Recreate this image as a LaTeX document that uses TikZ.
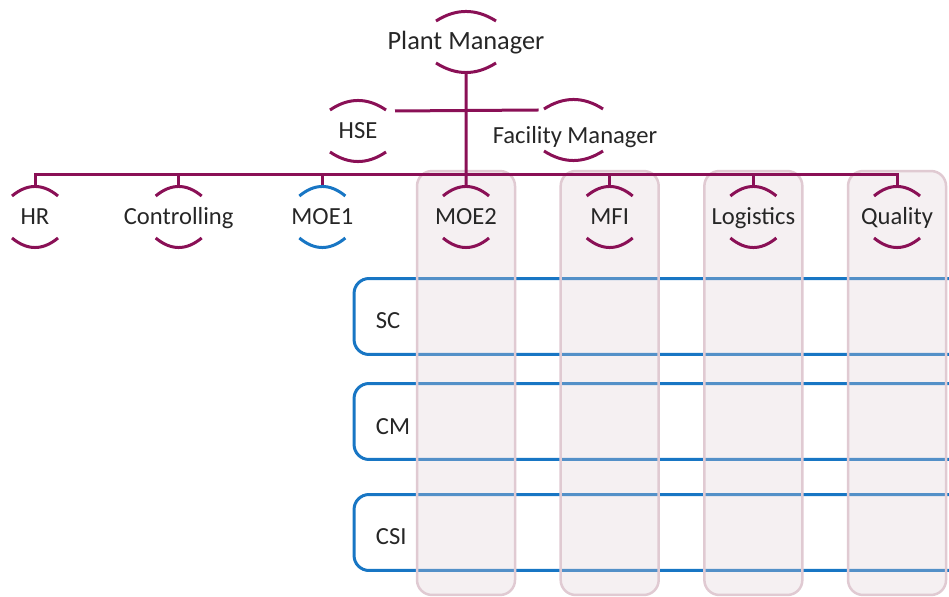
\documentclass[tikz,border=0pt]{standalone}
\usepackage{fontspec}
\setmainfont{Carlito}
\usetikzlibrary{positioning,calc,backgrounds}

\definecolor{plum}{RGB}{138,16,86}
\definecolor{rowblue}{RGB}{24,118,196}
\definecolor{colpink}{RGB}{222,205,212}
\definecolor{colline}{RGB}{224,202,210}
\definecolor{txt}{RGB}{38,38,38}

\tikzset{
  unit/.style={inner sep=0pt, text height=10pt, text depth=1pt, text=txt, font=\fontsize{14}{16}\selectfont},
  orgline/.style={plum, line width=0.06cm},
  arcline/.style={line width=0.06cm},
  rowbox/.style={draw=rowblue, line width=0.06cm, rounded corners=8.5pt, minimum width=12.92cm, minimum height=1.52cm},
  colbox/.style={draw=colline, line width=0.05cm, fill=colpink, fill opacity=0.3, rounded corners=8.5pt, minimum width=1.96cm, minimum height=8.48cm}
}

% Boegen ueber und unter einer Einheit
\newcommand{\unitarcs}[3][plum]{%
  \draw[#1, arcline] ($(#2)+(-#3,-21)$) .. controls ($(#2)+(-#3/3,-33.7)$) and ($(#2)+(#3/3,-33.7)$) .. ($(#2)+(#3,-21)$);
  \draw[#1, arcline] ($(#2)+(-#3,21)$) .. controls ($(#2)+(-#3/3,33.7)$) and ($(#2)+(#3/3,33.7)$) .. ($(#2)+(#3,21)$);
}

\begin{document}
\begin{tikzpicture}[x=0.02cm, y=-0.02cm, node distance=2.874cm]
\useasboundingbox (0,0) rectangle (949,597);
\clip (0,0) rectangle (949,597);

% Leitung
\node[unit, font=\fontsize{15}{17}\selectfont] (pm) at (466,42) {Plant Manager};
\node[unit] (hse) at (358,131) {HSE};
\node[unit] (fm) at (575,136) {Facility Manager};
\coordinate (fmarc) at ($(fm)+(-1.5,-6)$);

% Bereiche
\node[unit] (hr) at (35,217) {HR};
\node[unit, right of=hr] (ctrl) {Controlling};
\node[unit, right of=ctrl] (moe1) {MOE1};
\node[unit, right of=moe1] (moe2) {MOE2};
\node[unit, right of=moe2] (mfi) {MFI};
\node[unit, right of=mfi] (log) {Logistics};
\node[unit, right of=log] (qual) {Quality};

% Zeilen und Spalten
\begin{scope}[on background layer]
\node[rowbox] (sc) at (677,316.5) {};
\node[rowbox] (cm) at (677,421.5) {};
\node[rowbox] (csi) at (677,532.5) {};
\foreach \n in {moe2,mfi,log,qual}
  \node[colbox] (\n col) at ($(\n)+(0,166)$) {};
\end{scope}

\node[unit, anchor=west] (sclabel) at ($(sc.west)+(23,4)$) {SC};
\node[unit, anchor=west] (cmlabel) at ($(cm.west)+(23,5)$) {CM};
\node[unit, anchor=west] (csilabel) at ($(csi.west)+(23,4)$) {CSI};

% Verbindungen
\coordinate (bus) at (0,175);
\draw[orgline] ($(pm)+(0,30)$) -- ($(moe2)+(0,-30)$);
\draw[orgline] ($(hr)+(0,-30)$) -- (hr |- bus) -- (qual |- bus) -- ($(qual)+(0,-30)$);
\foreach \n in {ctrl,moe1,mfi,log}
  \draw[orgline] ($(\n)+(0,-30)$) -- (\n |- bus);
\draw[orgline] ($(hse)+(37,-20)$) -- ($(fmarc)+(-35,-20)$);

% Boegen
\unitarcs{pm}{30}
\unitarcs{hse}{28}
\unitarcs{fmarc}{29.5}
\foreach \n in {hr,ctrl,moe2,mfi,log,qual}
  {\unitarcs{\n}{23}}
\unitarcs[rowblue]{moe1}{23}
\end{tikzpicture}
\end{document}
